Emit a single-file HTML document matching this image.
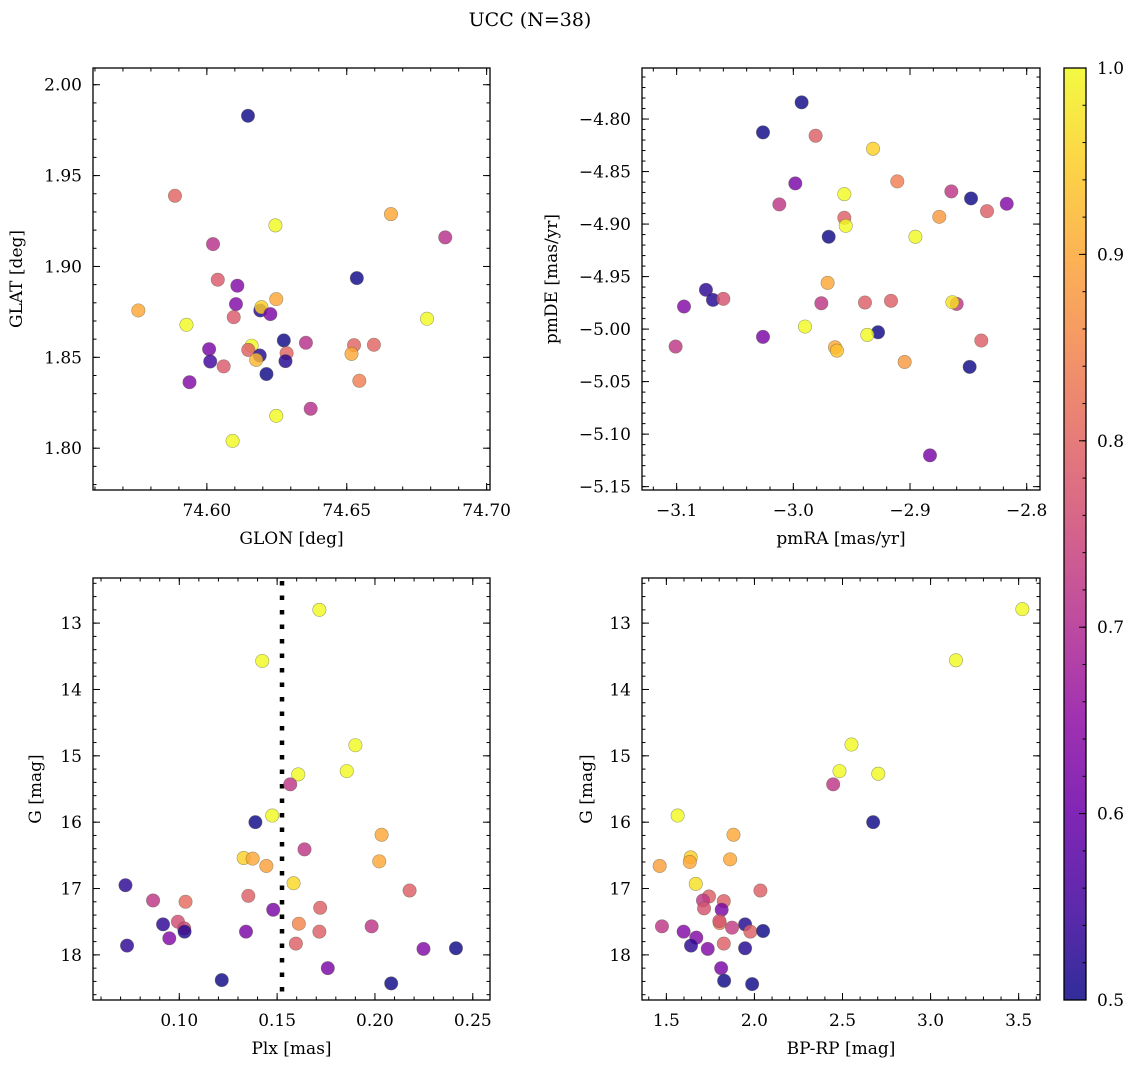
<!DOCTYPE html>
<html><head><meta charset="utf-8"><style>
html,body{margin:0;padding:0;background:#fff;}
svg{display:block;font-family:"DejaVu Serif","Liberation Serif",serif;}
</style></head><body>
<svg id="fig" width="1136" height="1067" viewBox="0 0 1136 1067" xmlns="http://www.w3.org/2000/svg">
<defs>
<linearGradient id="plasma" x1="0" y1="1" x2="0" y2="0">
<stop offset="0" stop-color="#0d0887"/><stop offset="0.1" stop-color="#41049d"/><stop offset="0.2" stop-color="#6a00a8"/><stop offset="0.3" stop-color="#8f0da4"/><stop offset="0.4" stop-color="#b12a90"/><stop offset="0.5" stop-color="#cc4778"/><stop offset="0.6" stop-color="#e16462"/><stop offset="0.7" stop-color="#f2844b"/><stop offset="0.8" stop-color="#fca636"/><stop offset="0.9" stop-color="#fcce25"/><stop offset="1" stop-color="#f0f921"/>
</linearGradient>
</defs>
<text x="530" y="26" font-size="19" text-anchor="middle">UCC (N=38)</text>
</svg>
<script>
// Panel 1: GLON vs GLAT
const glonX = [74.6147,74.5886,74.6658,74.6245,74.6852,74.6022,74.6536,74.6039,74.6109,74.6248,74.5755,74.6104,74.6191,74.6195,74.6227,74.6096,74.6787,74.5927,74.6275,74.6354,74.6526,74.6597,74.6160,74.6008,74.6148,74.6285,74.6189,74.6517,74.6176,74.6281,74.6012,74.6060,74.6213,74.6545,74.5938,74.6371,74.6248,74.6092];
const glatY = [1.9829,1.9389,1.9288,1.9226,1.9160,1.9123,1.8936,1.8927,1.8894,1.8820,1.8758,1.8793,1.8758,1.8776,1.8738,1.8721,1.8712,1.8679,1.8593,1.8580,1.8567,1.8569,1.8564,1.8545,1.8541,1.8523,1.8510,1.8519,1.8486,1.8479,1.8477,1.8450,1.8408,1.8371,1.8363,1.8217,1.8178,1.8040];
const glonC = [0.5,0.8,0.9,1.0,0.71,0.71,0.5,0.78,0.63,0.9,0.9,0.63,0.52,0.95,0.62,0.78,1.0,1.0,0.5,0.71,0.8,0.8,1.0,0.62,0.79,0.8,0.52,0.9,0.92,0.52,0.55,0.78,0.5,0.84,0.63,0.71,1.0,1.0];
// Panel 2: pmRA vs pmDE
const pmraX = [-2.9929,-3.026,-2.9809,-2.9317,-2.9983,-2.9109,-2.8646,-2.9563,-2.8477,-3.012,-2.8171,-2.834,-2.8749,-2.9563,-2.9551,-2.9697,-2.8954,-2.9706,-3.0749,-3.0689,-3.06,-3.0937,-2.976,-2.9386,-2.9163,-2.86,-2.8637,-2.99,-2.9274,-2.9366,-3.026,-2.8389,-3.1009,-2.9643,-2.9626,-2.9046,-2.8489,-2.8829];
const pmdeY = [-4.7841,-4.8127,-4.8159,-4.8283,-4.8613,-4.8594,-4.8689,-4.8715,-4.8756,-4.8813,-4.8807,-4.8877,-4.8931,-4.8940,-4.9017,-4.9121,-4.9121,-4.9560,-4.9626,-4.9722,-4.9712,-4.9785,-4.9754,-4.9747,-4.9731,-4.9760,-4.9744,-4.9976,-5.003,-5.0055,-5.0074,-5.0109,-5.0166,-5.0173,-5.0205,-5.0313,-5.036,-5.1202];
const pmC = [0.5,0.5,0.79,0.95,0.62,0.84,0.72,1.0,0.5,0.72,0.63,0.79,0.88,0.79,1.0,0.5,1.0,0.9,0.53,0.52,0.77,0.63,0.72,0.79,0.79,0.72,0.97,1.0,0.5,1.0,0.62,0.79,0.72,0.9,0.93,0.88,0.5,0.62];
// Panel 3: Plx vs G
const plxX = [0.1716,0.1424,0.19,0.1856,0.1608,0.1567,0.1475,0.1389,0.2034,0.164,0.1329,0.1375,0.2022,0.1445,0.1584,0.0725,0.2177,0.1353,0.0866,0.1032,0.172,0.148,0.1611,0.0993,0.0917,0.1025,0.1027,0.1983,0.1716,0.1341,0.0949,0.1596,0.0733,0.2248,0.2414,0.1759,0.1217,0.2083];
const plxG = [12.80,13.57,14.84,15.23,15.28,15.43,15.90,16.00,16.19,16.41,16.54,16.55,16.59,16.66,16.92,16.95,17.03,17.11,17.18,17.20,17.29,17.32,17.53,17.50,17.54,17.60,17.65,17.57,17.65,17.65,17.75,17.83,17.86,17.91,17.90,18.20,18.38,18.43];
const plxC = [1.0,1.0,1.0,1.0,1.0,0.72,1.0,0.5,0.9,0.72,0.95,0.9,0.9,0.89,0.96,0.53,0.79,0.79,0.72,0.81,0.79,0.62,0.85,0.76,0.53,0.75,0.52,0.72,0.79,0.62,0.63,0.79,0.53,0.63,0.5,0.62,0.5,0.5];
// Panel 4: BP-RP vs G
const bprpX = [3.521,3.144,2.551,2.483,2.703,2.447,1.564,2.674,1.881,1.638,1.633,1.862,1.462,1.667,2.034,1.742,1.708,1.826,1.714,1.814,1.803,1.801,1.947,1.475,1.873,1.598,1.977,2.049,1.670,1.640,1.735,1.826,1.947,1.811,1.828,1.987];
const bprpG = [12.79,13.56,14.83,15.23,15.27,15.43,15.90,16.00,16.19,16.53,16.60,16.56,16.66,16.93,17.03,17.12,17.18,17.19,17.30,17.32,17.52,17.49,17.54,17.57,17.59,17.65,17.65,17.64,17.74,17.86,17.91,17.83,17.90,18.20,18.39,18.44];
const bprpC = [1.0,1.0,1.0,1.0,1.0,0.72,1.0,0.5,0.9,0.95,0.9,0.9,0.89,0.97,0.79,0.79,0.72,0.79,0.77,0.62,0.84,0.77,0.52,0.72,0.73,0.63,0.79,0.5,0.63,0.53,0.63,0.79,0.52,0.62,0.5,0.5];
const plxLine = [0.1525];
const cbTicks = [0.5,0.6,0.7,0.8,0.9,1.0];

const NS = "http://www.w3.org/2000/svg";
const svg = document.getElementById('fig');
const stops = [[0,13,8,135],[.1,65,4,157],[.2,106,0,168],[.3,143,13,164],[.4,177,42,144],[.5,204,71,120],[.6,225,100,98],[.7,242,132,75],[.8,252,166,54],[.9,252,206,37],[1,240,249,33]];
function plasma(c){
  let t=Math.max(0,Math.min(1,(c-0.5)/0.5));
  for(let i=1;i<stops.length;i++){ if(t<=stops[i][0]){const a=stops[i-1],b=stops[i];const f=(t-a[0])/(b[0]-a[0]);
    return `rgb(${Math.round(a[1]+f*(b[1]-a[1]))},${Math.round(a[2]+f*(b[2]-a[2]))},${Math.round(a[3]+f*(b[3]-a[3]))})`;}}
  return 'rgb(240,249,33)';
}
function mk(tag, attrs, parent){const e=document.createElementNS(NS,tag);for(const k in attrs)e.setAttribute(k,attrs[k]);(parent||svg).appendChild(e);return e;}
function fmt(v,d){const s=Math.abs(v).toFixed(d);return (v<-1e-9?'\u2212':'')+s;}

function panel(p, xs, ys, cs){
  const g=mk('g',{});
  
  
  const sx=v=>p.x0+(v-p.xl[0])/(p.xl[1]-p.xl[0])*(p.x1-p.x0);
  const sy=v=>p.y1-(v-p.yl[0])/(p.yl[1]-p.yl[0])*(p.y1-p.y0);
  // ticks
  const tg=mk('g',{stroke:'#000','stroke-width':1},g);
  function ticksX(step,len){const s=Math.ceil(Math.min(...p.xl)/step-1e-6),e=Math.floor(Math.max(...p.xl)/step+1e-6);
    for(let i=s;i<=e;i++){const x=sx(i*step);mk('line',{x1:x,x2:x,y1:p.y1,y2:p.y1-len},tg);mk('line',{x1:x,x2:x,y1:p.y0,y2:p.y0+len},tg);}}
  function ticksY(step,len){const s=Math.ceil(Math.min(...p.yl)/step-1e-6),e=Math.floor(Math.max(...p.yl)/step+1e-6);
    for(let i=s;i<=e;i++){const y=sy(i*step);mk('line',{x1:p.x0,x2:p.x0+len,y1:y,y2:y},tg);mk('line',{x1:p.x1,x2:p.x1-len,y1:y,y2:y},tg);}}
  ticksX(p.xminor,3.5);ticksX(p.xmajor,7);ticksY(p.yminor,3.5);ticksY(p.ymajor,7);
  // tick labels
  const xs0=Math.ceil(Math.min(...p.xl)/p.xmajor-1e-6),xe=Math.floor(Math.max(...p.xl)/p.xmajor+1e-6);
  for(let i=xs0;i<=xe;i++){const v=i*p.xmajor;const t=mk('text',{x:sx(v),y:p.y1+26,'font-size':17,'text-anchor':'middle'},g);t.textContent=fmt(v,p.xd);
    
    }
  const ys0=Math.ceil(Math.min(...p.yl)/p.ymajor-1e-6),ye=Math.floor(Math.max(...p.yl)/p.ymajor+1e-6);
  for(let i=ys0;i<=ye;i++){const v=i*p.ymajor;const t=mk('text',{x:p.x0-11,y:sy(v)+6,'font-size':17,'text-anchor':'end'},g);t.textContent=fmt(v,p.yd);
    
    }
  // axis labels
  const xt=mk('text',{x:(p.x0+p.x1)/2,y:p.y1+54,'font-size':17,'text-anchor':'middle'},g);xt.textContent=p.xlab;
  
  
  const yc=(p.y0+p.y1)/2;
  const yt=mk('text',{x:p.ylx,y:yc,'font-size':17,'text-anchor':'middle',transform:`rotate(-90 ${p.ylx} ${yc})`,'dominant-baseline':'central'},g);yt.textContent=p.ylab;
  
  
  // vertical line
  if(p.vline){for(const v of p.vline){const x=sx(v);const l=mk('line',{x1:x,x2:x,y1:p.y0+3,y2:p.y1,stroke:'#000','stroke-width':4.5,'stroke-dasharray':'4.5 10'},g);
    
    }}
  // points
  for(let i=0;i<xs.length;i++){
    const c=mk('circle',{cx:sx(xs[i]),cy:sy(ys[i]),r:6.7,fill:plasma(cs[i]),'fill-opacity':0.82,stroke:'rgba(90,90,60,0.55)','stroke-width':0.6},g);
    
    
  }
  // frame
  const f=mk('rect',{x:p.x0,y:p.y0,width:p.x1-p.x0,height:p.y1-p.y0,fill:'none',stroke:'#000','stroke-width':1.3},g);
  
  
}

panel({name:'glon-glat-panel',x0:93,x1:490,y0:68,y1:490,xl:[74.5593,74.7012],yl:[1.777,2.0092],xmajor:0.05,xminor:0.01,ymajor:0.05,yminor:0.01,xd:2,yd:2,xlab:'GLON [deg]',ylab:'GLAT [deg]',ylx:17},glonX,glatY,glonC);
panel({name:'pm-panel',x0:642,x1:1040,y0:68,y1:490,xl:[-3.1297,-2.7886],yl:[-5.1532,-4.7514],xmajor:0.1,xminor:0.02,ymajor:0.05,yminor:0.01,xd:1,yd:2,xlab:'pmRA [mas/yr]',ylab:'pmDE [mas/yr]',ylx:552},pmraX,pmdeY,pmC);
panel({name:'plx-g-panel',x0:93,x1:490,y0:578,y1:1000,xl:[0.0559,0.2588],yl:[18.68,12.32],xmajor:0.05,xminor:0.01,ymajor:1,yminor:0.2,xd:2,yd:0,xlab:'Plx [mas]',ylab:'G [mag]',ylx:36,vline:plxLine},plxX,plxG,plxC);
panel({name:'cmd-panel',x0:642,x1:1040,y0:578,y1:1000,xl:[1.3617,3.6212],yl:[18.68,12.32],xmajor:0.5,xminor:0.1,ymajor:1,yminor:0.2,xd:1,yd:0,xlab:'BP-RP [mag]',ylab:'G [mag]',ylx:587},bprpX,bprpG,bprpC);

// colorbar
const cb=mk('g',{});


const cbx0=1064,cbx1=1086,cby0=68,cby1=1000;
const cbs=v=>cby1-(v-0.5)/0.5*(cby1-cby0);
mk('rect',{x:cbx0,y:cby0,width:cbx1-cbx0,height:cby1-cby0,fill:'url(#plasma)','fill-opacity':0.85},cb);
for(let i=0;i<=25;i++){const y=cbs(0.5+i*0.02);mk('line',{x1:cbx1,x2:cbx1-3.5,y1:y,y2:y,stroke:'#000','stroke-width':1},cb);}
for(const v of cbTicks){const y=cbs(v);mk('line',{x1:cbx1,x2:cbx1-7,y1:y,y2:y,stroke:'#000','stroke-width':1},cb);
  const t=mk('text',{x:cbx1+11,y:y+6,'font-size':17},cb);t.textContent=v.toFixed(1);
  
  }
mk('rect',{x:cbx0,y:cby0,width:cbx1-cbx0,height:cby1-cby0,fill:'none',stroke:'#000','stroke-width':1.3},cb);
</script>
</body></html>
